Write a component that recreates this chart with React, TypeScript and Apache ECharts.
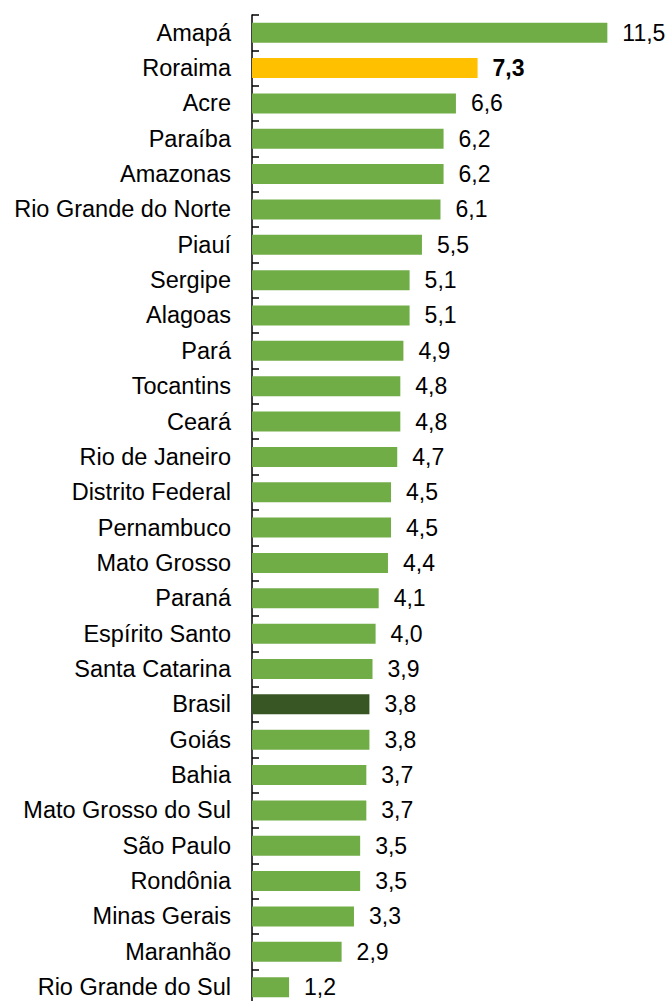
import React, { useEffect, useRef } from "react";
import * as echarts from "echarts";

const categories = [
  "Amapá", "Roraima", "Acre", "Paraíba", "Amazonas", "Rio Grande do Norte", "Piauí",
  "Sergipe", "Alagoas", "Pará", "Tocantins", "Ceará", "Rio de Janeiro", "Distrito Federal",
  "Pernambuco", "Mato Grosso", "Paraná", "Espírito Santo", "Santa Catarina", "Brasil",
  "Goiás", "Bahia", "Mato Grosso do Sul", "São Paulo", "Rondônia", "Minas Gerais",
  "Maranhão", "Rio Grande do Sul",
];
const values = [
  11.5, 7.3, 6.6, 6.2, 6.2, 6.1, 5.5, 5.1, 5.1, 4.9, 4.8, 4.8, 4.7, 4.5, 4.5, 4.4,
  4.1, 4.0, 3.9, 3.8, 3.8, 3.7, 3.7, 3.5, 3.5, 3.3, 2.9, 1.2,
];
const highlight = "Roraima";
const national = "Brasil";

const GREEN = "#70AD47";
const YELLOW = "#FFC000";
const DARK = "#375623";
const FONT = "'Liberation Sans', Arial, sans-serif";

export default function App() {
  const ref = useRef<HTMLDivElement>(null);
  useEffect(() => {
    if (!ref.current) return;
    const chart = echarts.init(ref.current, undefined, { renderer: "svg" });
    const data = values.map((v, i) => {
      const name = categories[i];
      const color = name === highlight ? YELLOW : name === national ? DARK : GREEN;
      const item: any = { value: v, itemStyle: { color } };
      if (name === highlight) item.label = { fontWeight: "bold" };
      return item;
    });
    chart.setOption({
      animation: false,
      grid: { left: 252, top: 15, width: 370.8, height: 989.8 },
      xAxis: {
        type: "value",
        min: 0,
        max: 12,
        show: false,
      },
      yAxis: {
        type: "category",
        inverse: true,
        data: categories,
        axisLine: { show: true, lineStyle: { color: "#000", width: 1.5 } },
        axisTick: { show: true, inside: true, length: 7, lineStyle: { color: "#000", width: 1.5 } },
        axisLabel: { color: "#000", fontSize: 23.5, fontFamily: FONT, margin: 21 },
      },
      series: [
        {
          type: "bar",
          data,
          barWidth: 20,
          label: {
            show: true,
            position: "right",
            distance: 15,
            color: "#000",
            fontSize: 23,
            fontFamily: FONT,
            formatter: (p: any) => Number(p.value).toFixed(1).replace(".", ","),
          },
        },
      ],
    });
    return () => chart.dispose();
  }, []);
  return (
    <div style={{ position: "absolute", left: 0, top: 0, width: 672, height: 1001, overflow: "hidden", background: "#fff" }}>
      <div ref={ref} style={{ width: 672, height: 1010 }} />
    </div>
  );
}
